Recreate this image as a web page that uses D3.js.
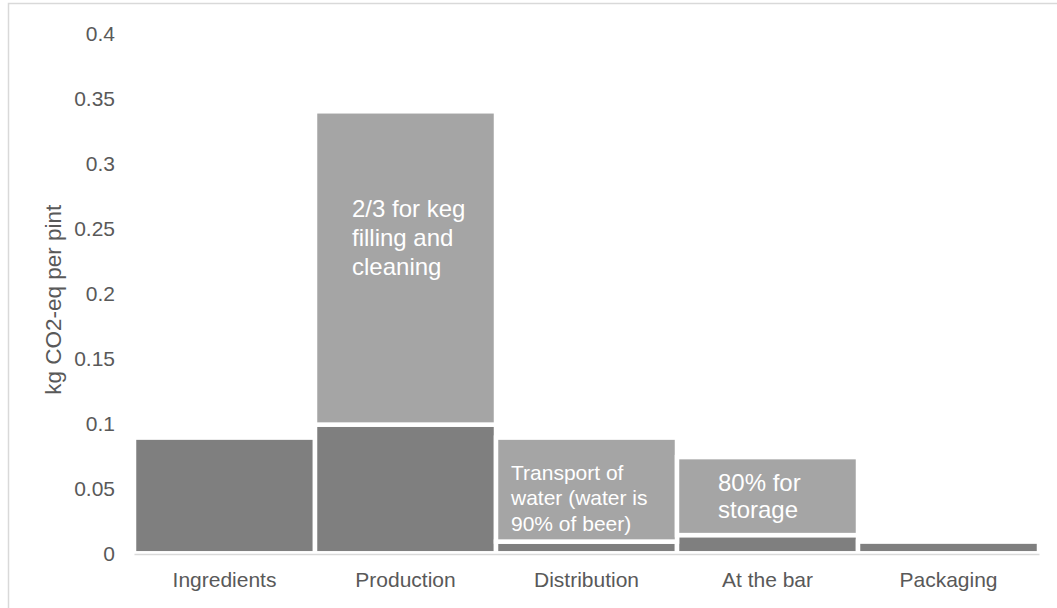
<!DOCTYPE html>
<html>
<head>
<meta charset="utf-8">
<script src="https://cdn.jsdelivr.net/npm/d3@7"></script>
<style>
  html, body { margin: 0; padding: 0; background: #fff; }
  svg { display: block; font-family: "Liberation Sans", Arial, sans-serif; }
</style>
</head>
<body>
<svg id="chart" width="1057" height="608"></svg>
<script>
// Life-cycle stages of a pint of draught beer
const stages = ["Ingredients", "Production", "Distribution", "At the bar", "Packaging"];
// Emissions per stage, kg CO2-eq per pint
const baseValues = [0.089, 0.099, 0.009, 0.014, 0.009];   // remaining share of the stage
const detailValues = [0, 0.241, 0.080, 0.060, 0];          // highlighted sub-process
const yTicks = [0, 0.05, 0.1, 0.15, 0.2, 0.25, 0.3, 0.35, 0.4];
const yTickLabels = ["0", "0.05", "0.1", "0.15", "0.2", "0.25", "0.3", "0.35", "0.4"];
const yTitle = "kg CO2-eq per pint";
// Notes written on the highlighted segments
const notes = [
  { stage: "Production", lines: ["2/3 for keg", "filling and", "cleaning"] },
  { stage: "Distribution", lines: ["Transport of", "water (water is", "90% of beer)"] },
  { stage: "At the bar", lines: ["80% for", "storage"] }
];

const svg = d3.select("#chart");
const textColor = "#595959";
const fontSize = 21;

// Frame around the chart
svg.append("rect")
  .attr("x", 8.5).attr("y", 3.5)
  .attr("width", 1070).attr("height", 640)
  .attr("fill", "none").attr("stroke", "#d9d9d9").attr("stroke-width", 1.5);

const x = d3.scaleBand().domain(stages).range([134, 1039]).padding(0);
const y = d3.scaleLinear().domain([0, 0.4]).range([553.3, 33.3]);

const stack = d3.stack().keys(["base", "detail"]);
const rows = stages.map((s, i) => ({ stage: s, base: baseValues[i], detail: detailValues[i] }));
const series = stack(rows);
const colors = { base: "#7f7f7f", detail: "#a5a5a5" };

svg.append("g").selectAll("g")
  .data(series)
  .join("g")
  .attr("fill", d => colors[d.key])
  .selectAll("rect")
  .data(d => d.filter(p => p[1] - p[0] > 0))
  .join("rect")
  .attr("x", d => x(d.data.stage))
  .attr("width", x.bandwidth())
  .attr("y", d => y(d[1]))
  .attr("height", d => y(d[0]) - y(d[1]))
  .attr("stroke", "#ffffff")
  .attr("stroke-width", 4.5);

// Category axis: baseline and labels, no ticks
const xAxis = svg.append("g")
  .attr("transform", `translate(0,${y(0) + 0.7})`)
  .call(d3.axisBottom(x).tickSize(0).tickPadding(18));
xAxis.select(".domain").attr("stroke", "#d9d9d9").attr("stroke-width", 1.6);
xAxis.selectAll("text")
  .attr("fill", textColor)
  .attr("font-size", fontSize)
  .attr("font-family", "Liberation Sans, Arial, sans-serif");

// Value axis: labels only
const yAxis = svg.append("g")
  .attr("transform", "translate(115,0)")
  .call(d3.axisLeft(y).tickValues(yTicks).tickFormat((d, i) => yTickLabels[i]).tickSize(0).tickPadding(0));
yAxis.select(".domain").remove();
yAxis.selectAll("text")
  .attr("fill", textColor)
  .attr("font-size", fontSize)
  .attr("font-family", "Liberation Sans, Arial, sans-serif");

svg.append("text")
  .attr("transform", `translate(61,${y(0.195)}) rotate(-90)`)
  .attr("text-anchor", "middle")
  .attr("fill", textColor)
  .attr("font-size", 22.5)
  .text(yTitle);

// Notes inside the light segments (baseline of first line given in data units)
const noteLayout = {
  "Production":   { dx: 37, top: 0.2587, lineGap: 28.8, size: 24 },
  "Distribution": { dx: 15, top: 0.0564, lineGap: 25.5, size: 21 },
  "At the bar":   { dx: 41, top: 0.0479, lineGap: 27.3, size: 24 }
};
notes.forEach(n => {
  const L = noteLayout[n.stage];
  const t = svg.append("text")
    .attr("fill", "#ffffff")
    .attr("font-size", L.size)
    .attr("x", x(n.stage) + L.dx)
    .attr("y", y(L.top));
  n.lines.forEach((line, i) => {
    t.append("tspan")
      .attr("x", x(n.stage) + L.dx)
      .attr("dy", i === 0 ? 0 : L.lineGap)
      .text(line);
  });
});
</script>
</body>
</html>
